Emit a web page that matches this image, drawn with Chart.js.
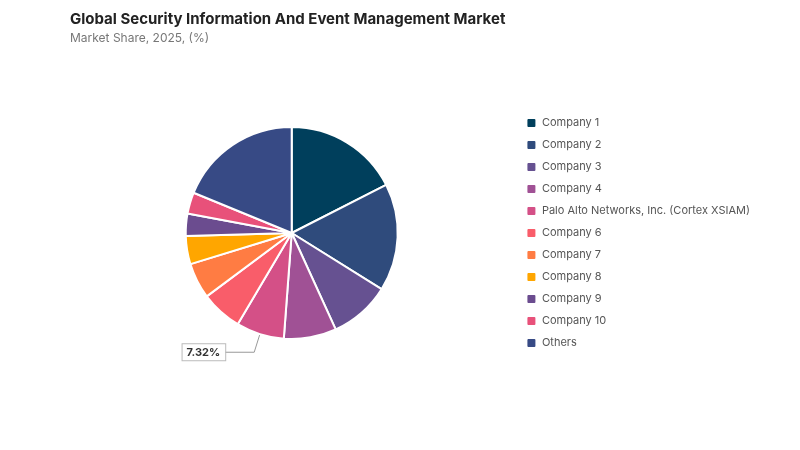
<!DOCTYPE html>
<html>
<head>
<meta charset="utf-8">
<script src="https://cdn.jsdelivr.net/npm/chart.js@4"></script>
<style>
  body { margin: 0; background: #fff; font-family: Inter, "Noto Sans", sans-serif; }
  #wrap { position: relative; width: 800px; height: 450px; }
  #title { position: absolute; left: 70px; top: 9px; font-size: 15px; font-weight: 700; color: #222; }
  #subtitle { position: absolute; left: 70px; top: 30px; font-size: 12px; color: #777; }
  #box { position: absolute; left: 0; top: 0; width: 800px; height: 450px; }
</style>
</head>
<body>
<div id="wrap">
  <div id="box"><canvas id="myChart"></canvas></div>
  <div id="title">Global Security Information And Event Management Market</div>
  <div id="subtitle">Market Share, 2025, (%)</div>
</div>
<script>
const companies = ["Company 1", "Company 2", "Company 3", "Company 4",
    "Palo Alto Networks, Inc. (Cortex XSIAM)", "Company 6", "Company 7",
    "Company 8", "Company 9", "Company 10", "Others"];
const shares = [17.5, 16.4, 9.3, 8.0, 7.32, 6.3, 5.45, 4.3, 3.4, 3.25, 18.8];
const colors = ["#003f5c", "#2f4b7c", "#665191", "#a05195", "#d45087", "#f95d6a",
    "#ff7c43", "#ffa600", "#6b4c8f", "#e8517a", "#374a85"];
const labelIndex = 4;

// callout box with leader line for the highlighted slice
const callout = {
    id: "callout",
    afterDatasetsDraw(chart) {
        const arc = chart.getDatasetMeta(0).data[labelIndex];
        if (!arc) return;
        const ctx = chart.ctx;
        const mid = (arc.startAngle + arc.endAngle) / 2;
        const r = arc.outerRadius;
        const x1 = arc.x + Math.cos(mid) * (r + 1);
        const y1 = arc.y + Math.sin(mid) * (r + 1);
        const x2 = arc.x + Math.cos(mid) * (r + 19);
        const y2 = arc.y + Math.sin(mid) * (r + 19);
        const x3 = x2 - 29;
        const text = shares[labelIndex].toFixed(2) + "%";
        ctx.save();
        ctx.strokeStyle = "#999";
        ctx.lineWidth = 1;
        ctx.beginPath();
        ctx.moveTo(x1, y1);
        ctx.lineTo(x2, y2);
        ctx.lineTo(x3, y2);
        ctx.stroke();
        ctx.font = "bold 11px Inter, 'Noto Sans', sans-serif";
        const w = ctx.measureText(text).width + 10;
        ctx.fillStyle = "#fff";
        ctx.fillRect(x3 - w, y2 - 9, w, 18);
        ctx.strokeStyle = "#bbb";
        ctx.strokeRect(x3 - w + 0.5, y2 - 8.5, w, 17);
        ctx.fillStyle = "#333";
        ctx.textAlign = "center";
        ctx.textBaseline = "middle";
        ctx.fillText(text, x3 - w / 2, y2 + 0.5);
        ctx.restore();
    }
};

new Chart(document.getElementById("myChart"), {
    type: "pie",
    data: {
        labels: companies,
        datasets: [{
            data: shares,
            backgroundColor: colors,
            borderColor: "#fff",
            borderWidth: 2
        }]
    },
    options: {
        responsive: true,
        maintainAspectRatio: false,
        animation: false,
        radius: 106,
        layout: { padding: { left: 68, right: 40, top: 62, bottom: 46 } },
        plugins: {
            legend: {
                position: "right",
                labels: {
                    boxWidth: 10,
                    boxHeight: 10,
                    useBorderRadius: true,
                    borderRadius: 2,
                    padding: 11,
                    color: "#555",
                    font: { size: 11, family: "Inter, 'Noto Sans', sans-serif" }
                }
            },
            tooltip: { enabled: false }
        }
    },
    plugins: [callout]
});
</script>
</body>
</html>
